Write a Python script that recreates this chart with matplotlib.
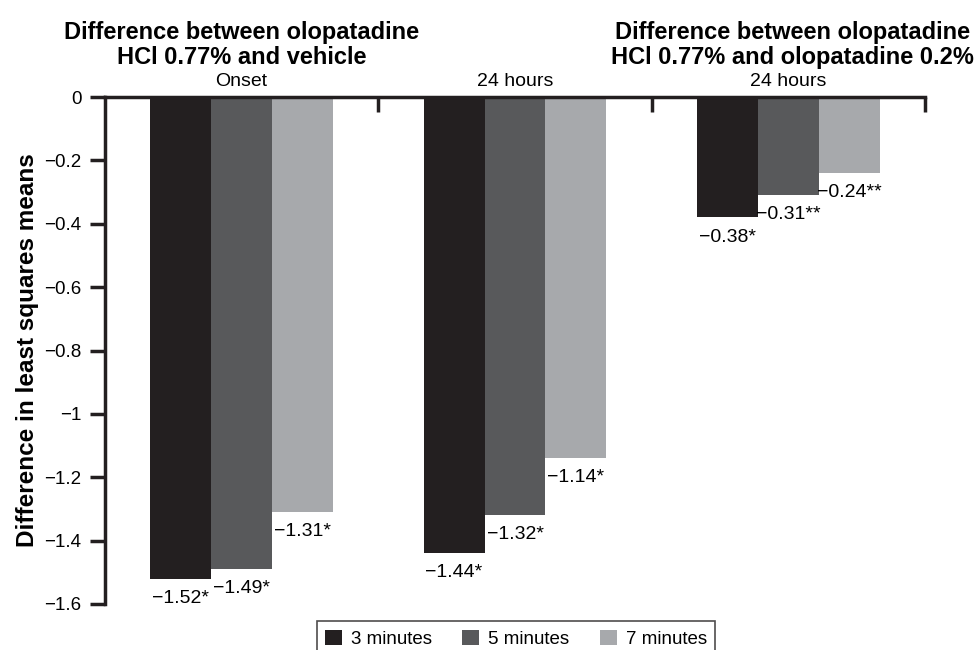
import matplotlib.pyplot as plt
import numpy as np

plt.rcParams['font.family'] = ['Liberation Sans', 'DejaVu Sans']

groups = ['Onset', '24 hours', '24 hours']
series = ['3 minutes', '5 minutes', '7 minutes']
vals_3 = [-1.52, -1.44, -0.38]
vals_5 = [-1.49, -1.32, -0.31]
vals_7 = [-1.31, -1.14, -0.24]
stars_3 = ['*', '*', '*']
stars_5 = ['*', '*', '**']
stars_7 = ['*', '*', '**']
colors = ['#231f20', '#58595b', '#a7a9ac']
yticks = [0, -0.2, -0.4, -0.6, -0.8, -1, -1.2, -1.4, -1.6]
titles = ['Difference between olopatadine\nHCl 0.77% and vehicle',
          'Difference between olopatadine\nHCl 0.77% and olopatadine 0.2%']

fig = plt.figure(figsize=(9.74, 6.5), dpi=100)
ax = fig.add_axes([105/974, 1-604/650, 820/974, 507/650])

x = np.arange(len(groups))
w = 0.223
allv = [vals_3, vals_5, vals_7]
alls = [stars_3, stars_5, stars_7]
for i, (v, s) in enumerate(zip(allv, alls)):
    pos = x + (i-1)*w
    ax.bar(pos, v, w, color=colors[i], label=series[i])
    for px, val, st in zip(pos, v, s):
        txt = ('%.2f' % val).replace('-', '\u2212') + st
        ax.annotate(txt, (px, val), xytext=(0, -8), textcoords='offset points',
                    ha='center', va='top', fontsize=14)

ax.set_xlim(-0.5, 2.5)
ax.set_ylim(-1.6, 0)
ax.set_yticks(yticks)
ax.set_yticklabels([('%g' % t).replace('-', '\u2212') for t in yticks], fontsize=13.5)
ax.spines['bottom'].set_visible(False)
ax.spines['right'].set_visible(False)
for sp in ['top', 'left']:
    ax.spines[sp].set_linewidth(2.5)
    ax.spines[sp].set_color('#231f20')
ax.tick_params(axis='y', length=11, width=2.5, color='#231f20', pad=6)
ax.xaxis.tick_top()
ax.set_xticks([0.5, 1.5, 2.5])
ax.set_xticklabels([])
ax.tick_params(axis='x', direction='in', length=11, width=2.5, color='#231f20')

for xi, g in zip(x, groups):
    ax.text(xi, 1.014, g, transform=ax.get_xaxis_transform(), ha='center', va='bottom', fontsize=14)
ax.text(0, 1.055, titles[0], transform=ax.get_xaxis_transform(), ha='center', va='bottom',
        fontsize=17, fontweight='bold', linespacing=1.1)
ax.text(2.015, 1.055, titles[1], transform=ax.get_xaxis_transform(), ha='center', va='bottom',
        fontsize=17, fontweight='bold', linespacing=1.1)

ax.set_ylabel('Difference in least squares means', fontsize=17.5, fontweight='bold', labelpad=4)

leg = fig.legend(loc='upper center', bbox_to_anchor=(516/974, 1-612/650), ncol=3, fontsize=13.5,
                 frameon=True, fancybox=False, edgecolor='#231f20', handlelength=0.9, handleheight=0.9,
                 columnspacing=1.6, handletextpad=0.5, borderpad=0.45)
leg.get_frame().set_linewidth(1.2)

fig.savefig('out.png', dpi=100)
